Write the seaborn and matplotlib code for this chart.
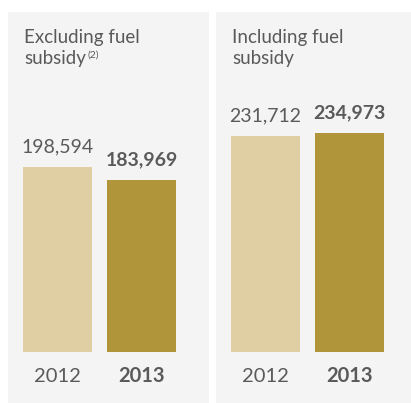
import numpy as np
import pandas as pd
import seaborn as sns
import matplotlib.pyplot as plt

# data
years = ["2012", "2013"]
excl_values = [198594, 183969]
incl_values = [231712, 234973]
panel_titles = ["Excluding fuel\nsubsidy", "Including fuel\nsubsidy"]

light = "#e0cfa2"
dark = "#b0953a"
panel_bg = "#f4f4f4"
txt = "#5a5a5a"

sns.set_theme(style="white")
plt.rcParams["font.family"] = ["Lato", "DejaVu Sans"]

W, H = 411, 403
fig = plt.figure(figsize=(W / 100, H / 100), dpi=100)
fig.patch.set_facecolor("white")

px_per_unit = 185 / 198594  # bar height scale
base_y = 351.7


def panel_axes(x0, x1, y0=12, y1=403):
    return fig.add_axes([x0 / W, 1 - y1 / H, (x1 - x0) / W, (y1 - y0) / H])


panels = [(8, 209, 57.5, excl_values), (216, 411, 265.5, incl_values)]

for (x0, x1, c0, vals), title in zip(panels, panel_titles):
    ax = panel_axes(x0, x1)
    ax.set_facecolor(panel_bg)
    df = pd.DataFrame({"year": years, "value": vals})
    sns.barplot(df, x="year", y="value", hue="year", palette=[light, dark],
                width=69 / 84, saturation=1, legend=False, linewidth=0, ax=ax)
    ax.set_xlim(-(c0 - x0) / 84, 1 + (x1 - (c0 + 84)) / 84)
    ax.set_ylim(-(403 - base_y) / px_per_unit, (base_y - 12) / px_per_unit)
    ax.set_xticks([])
    ax.set_yticks([])
    ax.set_xlabel("")
    ax.set_ylabel("")
    sns.despine(ax=ax, left=True, bottom=True)

    for i, v in enumerate(vals):
        bold = i == 1
        ax.annotate(f"{v:,}", xy=(i, v), xytext=(0, 10.5), textcoords="offset points",
                    ha="center", va="baseline", fontsize=14,
                    fontweight="bold" if bold else "normal", color=txt)
        ax.annotate(years[i], xy=(i, 0), xytext=(0, -22), textcoords="offset points",
                    ha="center", va="baseline", fontsize=14.5,
                    fontweight="bold" if bold else "normal", color=txt)

    lines = title.split("\n")
    fig.text((x0 + 16) / W, 1 - 42.5 / H, lines[0], fontsize=13.5, color=txt,
             ha="left", va="baseline")
    fig.text((x0 + 16) / W, 1 - 64 / H, lines[1], fontsize=13.5, color=txt,
             ha="left", va="baseline")

# footnote marker on the left title
fig.text(87 / W, 1 - 58 / H, "(2)", fontsize=7.5, color=txt, ha="left", va="baseline")

fig.savefig("out.png", dpi=100, facecolor="white")
